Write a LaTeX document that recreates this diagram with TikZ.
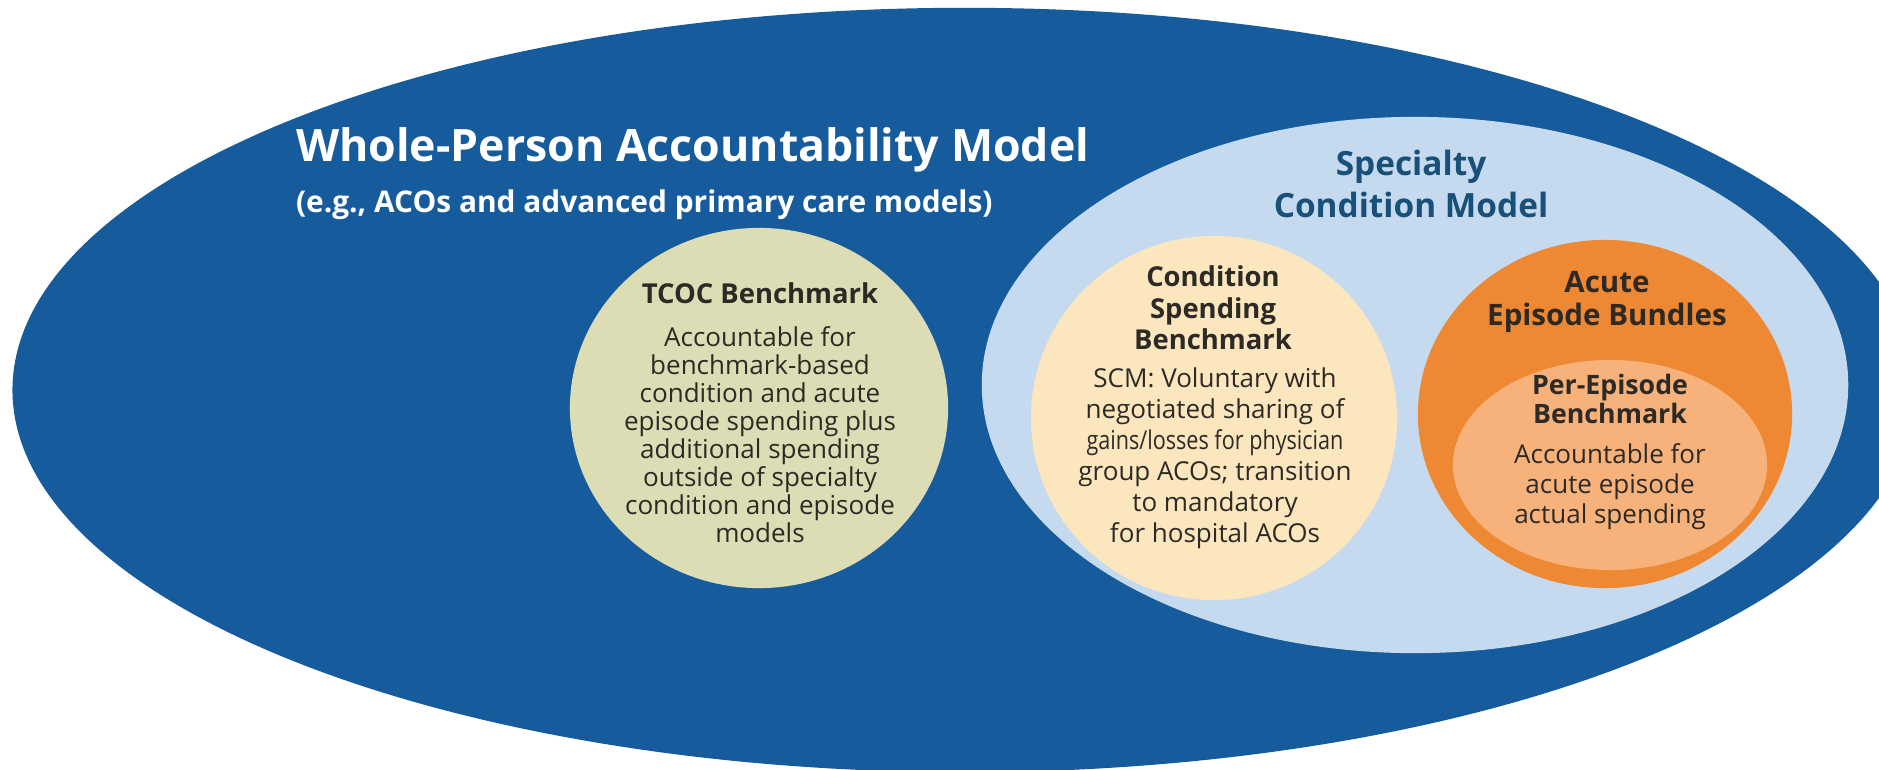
\documentclass[tikz,border=0pt]{standalone}
\usepackage{fontspec}
\usepackage{graphicx}
\setmainfont{Open Sans}
\usetikzlibrary{shapes.geometric}
\usetikzlibrary{positioning}

\definecolor{wholeblue}{RGB}{22,91,155}
\definecolor{scmfill}{RGB}{197,218,239}
\definecolor{scmblue}{RGB}{24,80,122}
\definecolor{tcocfill}{RGB}{220,221,180}
\definecolor{condfill}{RGB}{251,230,190}
\definecolor{acuteorange}{RGB}{239,136,51}
\definecolor{perfill}{RGB}{246,178,122}
\definecolor{ink}{RGB}{45,42,38}

\begin{document}
\begin{tikzpicture}[x=0.01cm,y=-0.01cm,every node/.style={inner sep=0pt,outer sep=0pt}]
  \tikzstyle{blob}=[ellipse,draw=none]
  \tikzstyle{head}=[font=\fontsize{7.8}{9}\selectfont\bfseries,text=ink,align=center]
  \tikzstyle{body}=[font=\fontsize{7.4}{8}\selectfont,text=ink,align=center]

  \useasboundingbox (0,0) rectangle (1879,769);
  \clip (0,0) rectangle (1879,769);

  % nested models
  \node[blob,fill=wholeblue,minimum width=19.04cm,minimum height=7.64cm] (whole) at (965,390) {};
  \node[blob,fill=scmfill,minimum width=8.66cm,minimum height=5.36cm]    (scm)   at (1415,385) {};
  \node[blob,fill=tcocfill,minimum width=3.78cm,minimum height=3.60cm]   (tcoc)  at (759,408) {};
  \node[blob,fill=condfill,minimum width=3.66cm,minimum height=3.64cm]   (cond)  at (1214,418) {};
  \node[blob,fill=acuteorange,minimum width=3.74cm,minimum height=3.48cm] (acute) at (1605,414) {};
  \node[blob,fill=perfill,minimum width=3.14cm,minimum height=2.10cm]    (per)   at (1610,465) {};

  % labels
  \node[anchor=west,text=white,font=\fontsize{12.7}{15}\selectfont\bfseries] (wholetitle) at (296,150) {Whole-Person Accountability Model};
  \node[anchor=west,text=white,font=\fontsize{8.5}{10}\selectfont\bfseries] (wholesub) at (296,205) {(e.g., ACOs and advanced primary care models)};
  \node[text=scmblue,align=center,font=\fontsize{9.5}{12}\selectfont\bfseries] (scmtitle) at (1411,184) {Specialty\\Condition Model};

  \node[head] (tcochead) at (760,293) {TCOC Benchmark};
  \node[body,font=\fontsize{7.4}{7.97}\selectfont] (tcocbody) at (760,435) {Accountable for\\benchmark-based\\condition and acute\\episode spending plus\\additional spending\\outside of specialty\\condition and episode\\models};

  \node[head,font=\fontsize{7.8}{9}\selectfont\bfseries] (condhead) at (1213,308) {Condition\\Spending\\Benchmark};
  \node[body,font=\fontsize{7.4}{8.8}\selectfont] (condbody) at (1215,458) {SCM: Voluntary with\\negotiated sharing of\\\scalebox{0.83}[1]{gains/losses for physician}\\group ACOs; transition\\to mandatory\\for hospital ACOs};

  \node[head,font=\fontsize{8.4}{9.4}\selectfont\bfseries] (acutehead) at (1607,302) {Acute\\Episode Bundles};
  \node[head,font=\fontsize{7.6}{8}\selectfont\bfseries] (perhead) at (1610,399) {Per-Episode\\Benchmark};
  \node[body,font=\fontsize{7.4}{8.5}\selectfont] (perbody) at (1610,487) {Accountable for\\acute episode\\actual spending};
\end{tikzpicture}
\end{document}
